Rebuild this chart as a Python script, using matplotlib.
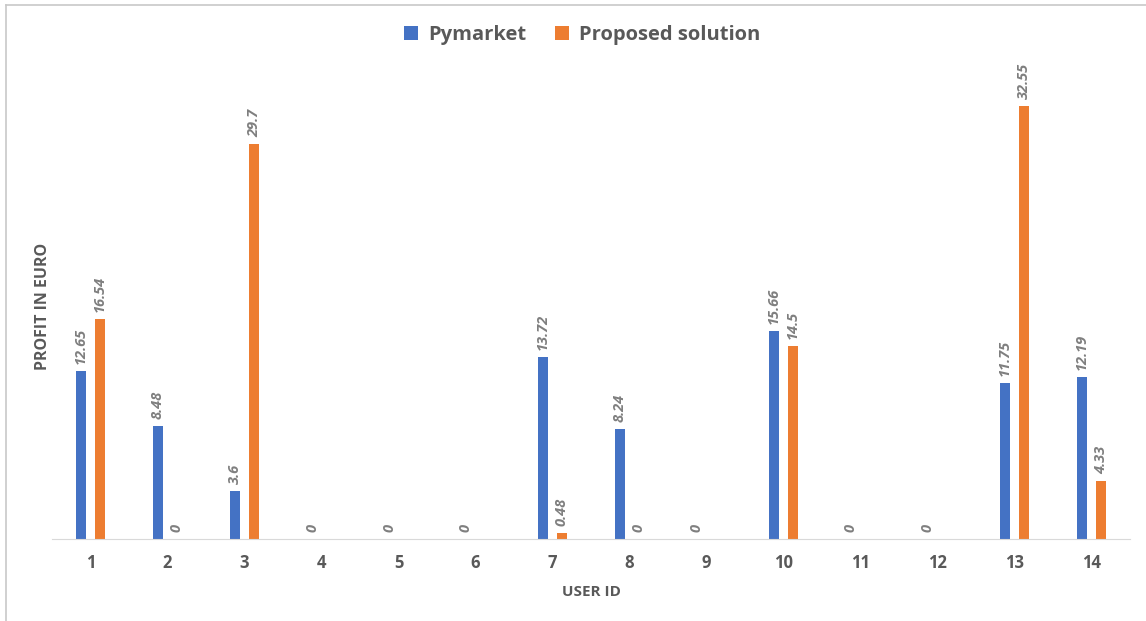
import matplotlib.pyplot as plt
import numpy as np
from matplotlib.lines import Line2D

plt.rcParams['font.family'] = ['Open Sans', 'DejaVu Sans']

user_ids = [str(i) for i in range(1, 15)]
pymarket = [12.65, 8.48, 3.6, 0, 0, 0, 13.72, 8.24, 0, 15.66, 0, 0, 11.75, 12.19]
# blank cells (no entry) are kept as nan so they get no label
proposed = [16.54, 0, 29.7, np.nan, np.nan, np.nan, 0.48, 0, np.nan, 14.5, np.nan, np.nan, 32.55, 4.33]

blue = '#4472c4'
orange = '#ed7d31'
text_gray = '#595959'
label_gray = '#7f7f7f'

fig = plt.figure(figsize=(11.46, 6.21), dpi=100)
ax = fig.add_axes([0.0454, 0.132, 0.9406, 0.7496])

x = np.arange(len(user_ids))
off = 0.123
w = 0.137
b1 = ax.bar(x - off, pymarket, w, color=blue, label='Pymarket')
b2 = ax.bar(x + off, np.nan_to_num(proposed), w, color=orange, label='Proposed solution')

for bars, vals in ((b1, pymarket), (b2, proposed)):
    for rect, v in zip(bars, vals):
        if np.isnan(v):
            continue
        ax.annotate(f'{v:g}', (rect.get_x() + rect.get_width() / 2, v),
                    xytext=(0, 5), textcoords='offset points',
                    rotation=90, ha='center', va='bottom',
                    fontsize=10.5, fontstyle='italic', fontweight='bold',
                    color=label_gray)

ax.set_xlim(-0.5, len(user_ids) - 0.5)
ax.set_ylim(0, 35)
ax.set_xticks(x)
ax.set_xticklabels(user_ids, fontsize=12, fontweight='bold', color=text_gray)
ax.tick_params(axis='x', length=0, pad=11)
ax.set_yticks([])
for s in ('top', 'right', 'left'):
    ax.spines[s].set_visible(False)
ax.spines['bottom'].set_color('#d9d9d9')

ax.set_xlabel('USER ID', fontsize=11, fontweight='bold', color=text_gray, labelpad=9)
ax.set_ylabel('PROFIT IN EURO', fontsize=11.5, fontweight='bold', color=text_gray, labelpad=1)

fig.legend(handles=[b1, b2], loc='center', bbox_to_anchor=(0.508, 0.943), ncol=2,
           frameon=False, prop={'size': 14.5, 'weight': 'bold'}, labelcolor=text_gray,
           handlelength=0.7, handleheight=0.7, handletextpad=0.5, columnspacing=1.4)

# frame lines along the top and left edge
fig.add_artist(Line2D([5.5 / 1146, 1], [1 - 4.5 / 621] * 2, transform=fig.transFigure,
                      color='#c8c8c8', linewidth=1.2))
fig.add_artist(Line2D([5.5 / 1146] * 2, [0, 1 - 4.5 / 621], transform=fig.transFigure,
                      color='#c8c8c8', linewidth=1.2))

fig.savefig('out.png', dpi=100)
